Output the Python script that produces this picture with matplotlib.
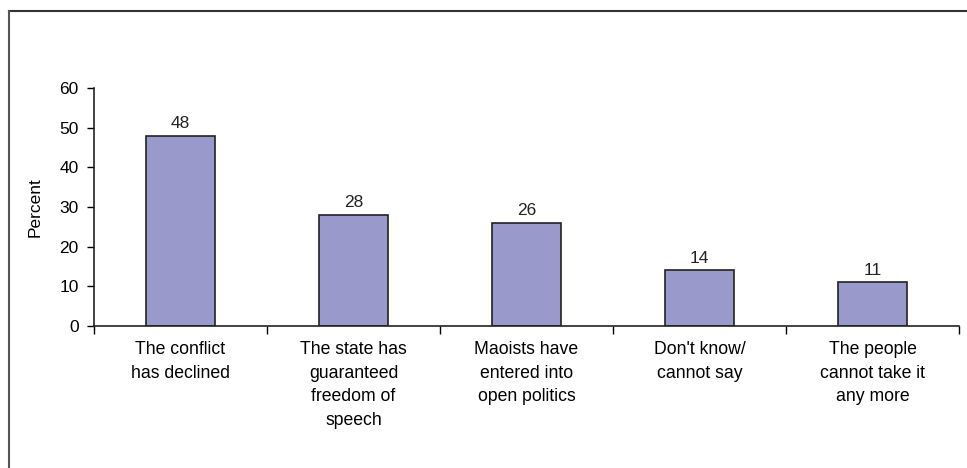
import numpy as np
import matplotlib.pyplot as plt
from matplotlib.lines import Line2D

categories = ["The conflict\nhas declined",
              "The state has\nguaranteed\nfreedom of\nspeech",
              "Maoists have\nentered into\nopen politics",
              "Don't know/\ncannot say",
              "The people\ncannot take it\nany more"]
values = [48, 28, 26, 14, 11]
yticks = [0, 10, 20, 30, 40, 50, 60]

plt.rcParams['font.family'] = ['Liberation Sans', 'DejaVu Sans']

fig = plt.figure(figsize=(9.67, 4.68), dpi=100)
ax = fig.add_axes([94/967, 1-326/468, (959-94)/967, (326-88)/468])

xs = np.arange(len(values))
bars = ax.bar(xs, values, width=0.4, color='#9999cc', edgecolor='#222222', linewidth=1.2)
for x, v in zip(xs, values):
    ax.text(x, v + 1.2, str(v), ha='center', va='bottom', fontsize=12.5, color='#222222')

ax.set_xlim(-0.5, len(values) - 0.5)
ax.set_ylim(0, 60)
ax.set_yticks(yticks)
ax.set_xticks(xs)
ax.set_xticklabels(categories, fontsize=12.7, linespacing=1.5, va='top')
ax.set_xticks(np.arange(len(values) + 1) - 0.5, minor=True)
ax.tick_params(axis='x', which='major', length=0, pad=11)
ax.tick_params(axis='x', which='minor', length=6, width=1, direction='out')
ax.tick_params(axis='y', length=5, width=1, labelsize=12.5, pad=6)
ax.set_ylabel("Percent", fontsize=12.5, labelpad=12)

for s in ['top', 'right']:
    ax.spines[s].set_visible(False)
for s in ['left', 'bottom']:
    ax.spines[s].set_linewidth(1.2)
    ax.spines[s].set_color('#222222')

# frame around chart (top and left visible)
fig.add_artist(Line2D([9/967, 1], [1-11/468, 1-11/468], color='#333333', lw=1.5))
fig.add_artist(Line2D([9/967, 9/967], [0, 1-11/468], color='#555555', lw=1.5))

fig.savefig('out.png', dpi=100)
